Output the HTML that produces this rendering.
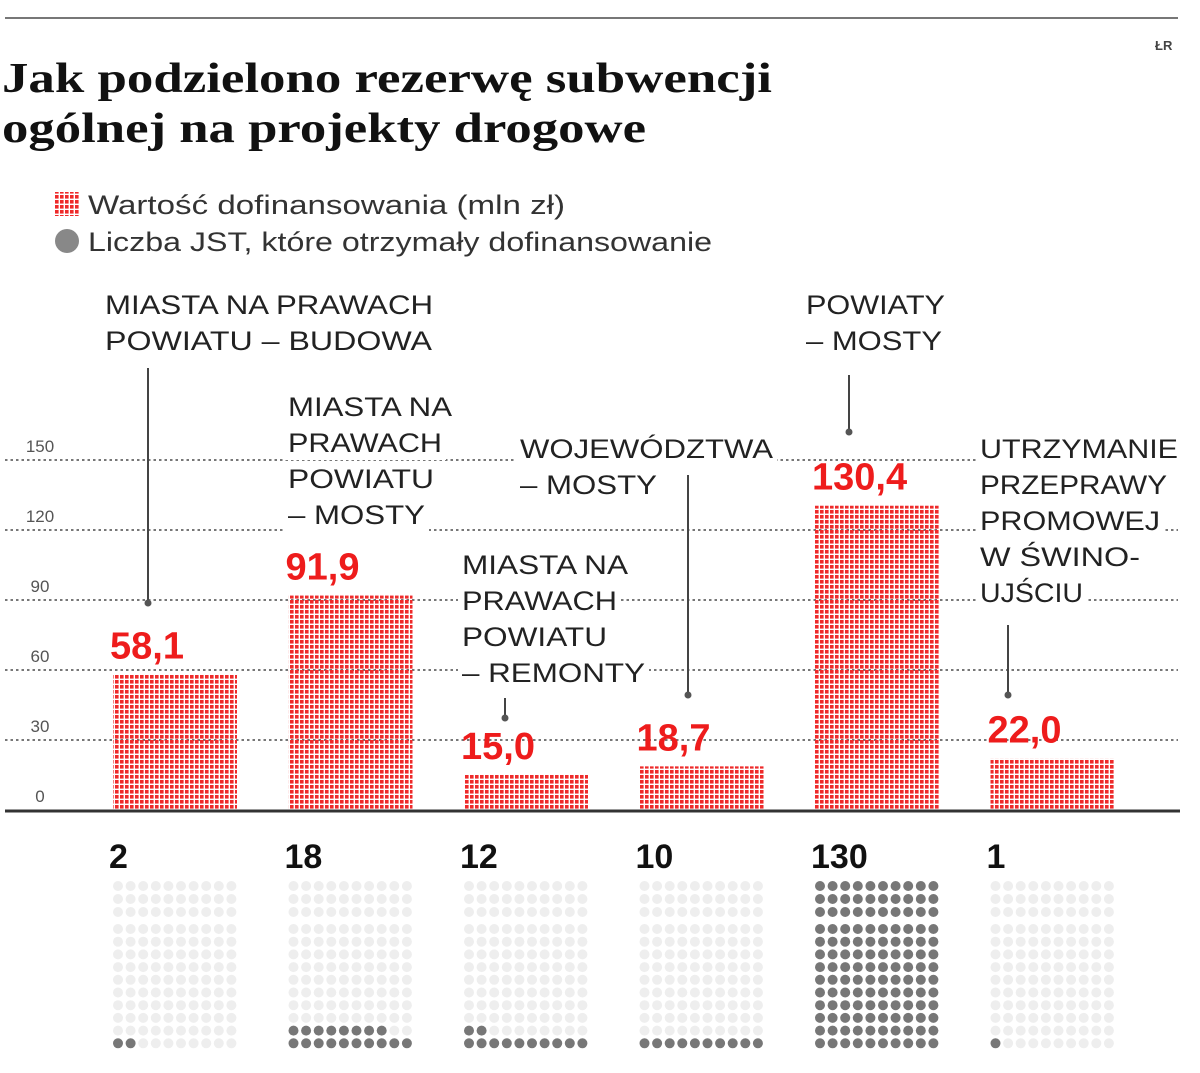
<!DOCTYPE html>
<html><head><meta charset="utf-8"><style>
body{margin:0;background:#fff;width:1200px;height:1068px;overflow:hidden;font-family:"Liberation Sans",sans-serif}
</style></head><body>
<svg id="c" width="1200" height="1068" xmlns="http://www.w3.org/2000/svg">
<defs>
<pattern id="rp" width="5" height="5" patternUnits="userSpaceOnUse"><rect x="0" y="0" width="3.6" height="3.6" fill="#ee2a2a"/></pattern>
<pattern id="lp" width="5" height="5" patternUnits="userSpaceOnUse"><rect x="0" y="0" width="3.6" height="3.6" fill="#ee2a2a"/></pattern>
</defs>
<line x1="5" y1="18" x2="1178" y2="18" stroke="#777" stroke-width="2"/>
<text x="1155" y="50" font-size="13" font-weight="bold" fill="#444">ŁR</text>
<text x="2" y="92" font-family="Liberation Serif" font-weight="bold" font-size="42" fill="#111" textLength="770" lengthAdjust="spacingAndGlyphs">Jak podzielono rezerwę subwencji</text>
<text x="2" y="142" font-family="Liberation Serif" font-weight="bold" font-size="42" fill="#111" textLength="644" lengthAdjust="spacingAndGlyphs">ogólnej na projekty drogowe</text>
<rect x="55" y="192" width="24" height="24" fill="url(#lp)"/>
<text x="88" y="214" font-size="27" fill="#333" textLength="477" lengthAdjust="spacingAndGlyphs">Wartość dofinansowania (mln zł)</text>
<circle cx="67" cy="241" r="12" fill="#888"/>
<text x="88" y="251" font-size="27" fill="#333" textLength="624" lengthAdjust="spacingAndGlyphs">Liczba JST, które otrzymały dofinansowanie</text>
<g id="grid"></g><g id="bars"></g><g id="ann"></g><g id="dots"></g>
</svg>
<script>
const categories=["Miasta na prawach powiatu – budowa","Miasta na prawach powiatu – mosty","Miasta na prawach powiatu – remonty","Województwa – mosty","Powiaty – mosty","Utrzymanie przeprawy promowej w Świnoujściu"];
const values=[58.1,91.9,15.0,18.7,130.4,22.0];
const valueLabels=["58,1","91,9","15,0","18,7","130,4","22,0"];
const counts=[2,18,12,10,130,1];
const ticks=[0,30,60,90,120,150];
const NS="http://www.w3.org/2000/svg";
const y=v=>810-v*70/30;
const barX=i=>113+i*175.5;
const BW=124;
function el(t,a,p){const e=document.createElementNS(NS,t);for(const k in a)e.setAttribute(k,a[k]);p.appendChild(e);return e;}
const grid=document.getElementById('grid'),bars=document.getElementById('bars'),ann=document.getElementById('ann'),dots=document.getElementById('dots');
ticks.forEach(t=>{
  if(t>0){const l=el('line',{x1:5,y1:y(t),x2:1178,y2:y(t),stroke:'#777','stroke-width':2,'stroke-dasharray':'2.5 3'},grid);
  
  }
  const tx=el('text',{x:40,y:y(t)-8,'font-size':17,fill:'#555','text-anchor':'middle'},grid);
  tx.textContent=t;
  
  
});
const base=el('line',{x1:5,y1:811,x2:1180,y2:811,stroke:'#333','stroke-width':3},grid);


const labels=[
 {x:105,y:314,lines:["MIASTA NA PRAWACH","POWIATU – BUDOWA"],w:[328,327]},
 {x:288,y:416,lines:["MIASTA NA","PRAWACH","POWIATU","– MOSTY"],w:[164,154,146,137]},
 {x:462,y:574,lines:["MIASTA NA","PRAWACH","POWIATU","– REMONTY"],w:[166,155,145,183]},
 {x:520,y:458,lines:["WOJEWÓDZTWA","– MOSTY"],w:[253,137]},
 {x:806,y:314,lines:["POWIATY","– MOSTY"],w:[139,136]},
 {x:980,y:458,lines:["UTRZYMANIE","PRZEPRAWY","PROMOWEJ","W ŚWINO-","UJŚCIU"],w:[198,187,180,160,103]}
];
const leaders=[[148,368,603],[505,698,718],[688,475,695],[849,375,432],[1008,625,695]];
values.forEach((v,i)=>{
  const r=el('rect',{x:barX(i),y:y(v),width:BW,height:810-y(v),fill:'url(#rp)'},bars);
  
  
  const t=el('text',{x:barX(i)-3,y:y(v)-16,'font-size':38,'font-weight':'bold',fill:'#ee1c1c'},ann);
  t.textContent=valueLabels[i];
  
  
  const c=el('text',{x:barX(i)-4,y:868,'font-size':34,'font-weight':'bold',fill:'#111'},ann);
  c.textContent=counts[i];
  
  
  for(let k=0;k<130;k++){
    const row=Math.floor(k/10),col=k%10;
    const r2=12-row;
    const cy=r2<3?886+r2*13:929+(r2-3)*12.7;
    const d=el('circle',{cx:barX(i)+5+col*12.6,cy:cy,r:5,fill:k<counts[i]?'#777':'#eeeeee'},dots);
    
    
  }
});
labels.forEach((L,i)=>{
  const g=el('g',{},ann);
  
  
  L.lines.forEach((s,j)=>{
    const w=L.w[j];
    el('rect',{x:L.x-4,y:L.y+j*36-26,width:w+8,height:34,fill:'#fff'},g);
    const t=el('text',{x:L.x,y:L.y+j*36,'font-size':27,fill:'#222','textLength':w,'lengthAdjust':'spacingAndGlyphs'},g);
    t.textContent=s;
  });
});
leaders.forEach((a,i)=>{
  const l=el('line',{x1:a[0],y1:a[1],x2:a[0],y2:a[2],stroke:'#444','stroke-width':2},ann);
  
  
  el('circle',{cx:a[0],cy:a[2],r:3.5,fill:'#555'},ann);
});
</script>
</body></html>
